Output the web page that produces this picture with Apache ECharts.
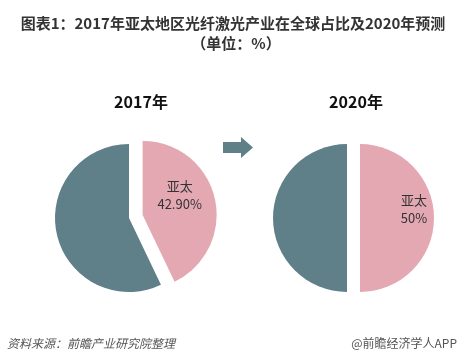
<!DOCTYPE html>
<html><head><meta charset="utf-8">
<script src="https://cdn.jsdelivr.net/npm/echarts@6/dist/echarts.min.js"></script>
<style>html,body{margin:0;padding:0;background:#fff}#c{width:466px;height:363px}</style>
</head><body><div id="c"></div>
<script>
var titleLines = ['图表1：2017年亚太地区光纤激光产业在全球占比及2020年预测', '（单位：%）'];
var years = ['2017年', '2020年'];
var regions = ['亚太', '其他'];
var share2017 = [42.9, 57.1];
var share2020 = [50, 50];
var labels2017 = ['42.90%', ''];
var labels2020 = ['50%', ''];
var source = '资料来源：前瞻产业研究院整理';
var brand = '@前瞻经济学人APP';

var FONT = '"Noto Sans CJK SC", "Noto Sans", sans-serif';
var PINK = '#e3a8b2', GREY = '#5f7f89';

function mkData(vals, labs) {
  return vals.map(function (v, i) {
    return {
      name: regions[i], value: v, pct: labs[i], selected: i === 0,
      itemStyle: { color: i === 0 ? PINK : GREY },
      label: { show: i === 0 }
    };
  });
}

var chart = echarts.init(document.getElementById('c'), null, { renderer: 'canvas' });
function pieSeries(center, vals, labs, offset, dx, dy) {
  return {
    type: 'pie', center: center, radius: 74, startAngle: 90, clockwise: true,
    selectedMode: 'single', selectedOffset: offset, silent: true, animation: false,
    label: {
      position: 'inside', color: '#333', fontSize: 13, fontFamily: FONT, lineHeight: 18,
      formatter: function (p) { return p.name + '\n' + p.data.pct; }
    },
    labelLayout: { dx: dx, dy: dy },
    labelLine: { show: false },
    data: mkData(vals, labs)
  };
}
chart.setOption({
  backgroundColor: '#fff',
  title: [
    { text: years[0], left: 136, top: 89, textAlign: 'center', textStyle: { fontSize: 16, fontWeight: 'bold', color: '#111', fontFamily: FONT } },
    { text: years[1], left: 351, top: 89, textAlign: 'center', textStyle: { fontSize: 16, fontWeight: 'bold', color: '#111', fontFamily: FONT } }
  ],
  graphic: [
    { type: 'text', x: 233, y: 23, style: { text: titleLines[0], fontSize: 15, fontWeight: 'bold', fill: '#333', fontFamily: FONT, align: 'center', verticalAlign: 'middle' } },
    { type: 'text', x: 236, y: 43, style: { text: titleLines[1], fontSize: 15, fontWeight: 'bold', fill: '#333', fontFamily: FONT, align: 'center', verticalAlign: 'middle' } },
    { type: 'polygon', shape: { points: [[223,142],[241,142],[241,137],[253,147.5],[241,158],[241,153],[223,153]] }, style: { fill: '#5f8087' } },
    { type: 'text', left: 7, top: 337, style: { text: source, fontSize: 12, fontStyle: 'italic', fill: '#555', fontFamily: FONT } },
    { type: 'text', right: 9, top: 337, style: { text: brand, fontSize: 12, fill: '#555', fontFamily: FONT } }
  ],
  series: [
    pieSeries([129, 218], share2017, labels2017, 14, -2, -11),
    pieSeries([347, 218], share2020, labels2020, 13, 14, -9)
  ]
});
</script></body></html>
